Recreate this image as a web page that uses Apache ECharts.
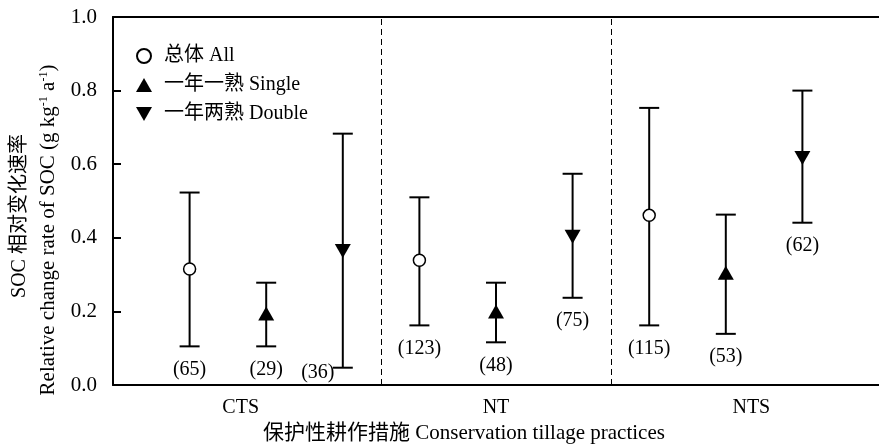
<!DOCTYPE html>
<html>
<head>
<meta charset="utf-8">
<script src="https://cdn.jsdelivr.net/npm/echarts@6/dist/echarts.min.js"></script>
<style>
  html, body { margin: 0; padding: 0; background: #fff; }
  #chart { width: 879px; height: 448px; }
</style>
</head>
<body>
<div id="chart"></div>
<script>
const FONT = "'Liberation Serif', 'Noto Sans CJK SC', serif";

const categories = ['CTS', 'NT', 'NTS'];
const seriesNames = ['总体 All', '一年一熟 Single', '一年两熟 Double'];
const yTicks = [0, 0.2, 0.4, 0.6, 0.8, 1.0];

// mean, lower and upper bound, sample size per category
const allMean = [0.315, 0.339, 0.461];
const allLow = [0.105, 0.162, 0.162];
const allHigh = [0.523, 0.510, 0.753];
const allN = [65, 123, 115];

const singleMean = [0.194, 0.200, 0.305];
const singleLow = [0.105, 0.116, 0.139];
const singleHigh = [0.278, 0.278, 0.463];
const singleN = [29, 48, 53];

const doubleMean = [0.364, 0.403, 0.617];
const doubleLow = [0.047, 0.237, 0.441];
const doubleHigh = [0.683, 0.574, 0.800];
const doubleN = [36, 75, 62];

const groups = [
  { mean: allMean, low: allLow, high: allHigh, n: allN },
  { mean: singleMean, low: singleLow, high: singleHigh, n: singleN },
  { mean: doubleMean, low: doubleLow, high: doubleHigh, n: doubleN },
];

// x slot: 3 per category, categories separated at 3.5 and 6.5
const xPos = (g, s) => g * 3 + s + 1;

const barData = [];
groups.forEach((grp, s) => {
  categories.forEach((c, g) => {
    barData.push([xPos(g, s), grp.low[g], grp.high[g], grp.n[g]]);
  });
});

function renderErrorBar(params, api) {
  const x = api.value(0);
  const lo = api.coord([x, api.value(1)]);
  const hi = api.coord([x, api.value(2)]);
  const n = api.value(3);
  const cap = 10;
  const bottom = params.coordSys.y + params.coordSys.height;
  const line = { stroke: '#000', lineWidth: 2 };
  let tx = lo[0], ty = lo[1] + 23;
  if (ty + 9 > bottom) { tx = lo[0] - 25; ty = lo[1] + 5; }
  return {
    type: 'group',
    children: [
      { type: 'line', shape: { x1: lo[0], y1: lo[1], x2: hi[0], y2: hi[1] }, style: line },
      { type: 'line', shape: { x1: lo[0] - cap, y1: lo[1], x2: lo[0] + cap, y2: lo[1] }, style: line },
      { type: 'line', shape: { x1: hi[0] - cap, y1: hi[1], x2: hi[0] + cap, y2: hi[1] }, style: line },
      {
        type: 'text',
        style: {
          text: '(' + n + ')', x: tx, y: ty,
          align: 'center', verticalAlign: 'middle',
          fontSize: 20, fontFamily: FONT, fill: '#000'
        }
      }
    ]
  };
}

const downTriangle = 'path://M0,0 L16,0 L8,14 Z';

const markerStyles = [
  { symbol: 'circle', symbolSize: 12, symbolRotate: 0, itemStyle: { color: '#fff', borderColor: '#000', borderWidth: 1.5, opacity: 1 } },
  { symbol: 'triangle', symbolSize: [16, 14], symbolRotate: 0, itemStyle: { color: '#000', opacity: 1 } },
  { symbol: 'triangle', symbolSize: [16, 14], symbolRotate: 180, itemStyle: { color: '#000', opacity: 1 } },
];

const scatterSeries = groups.map((grp, s) => ({
  name: seriesNames[s],
  type: 'scatter',
  xAxisIndex: 0,
  z: 5,
  symbol: markerStyles[s].symbol,
  symbolSize: markerStyles[s].symbolSize,
  symbolRotate: markerStyles[s].symbolRotate,
  itemStyle: markerStyles[s].itemStyle,
  emphasis: { disabled: true },
  data: categories.map((c, g) => [xPos(g, s), grp.mean[g]]),
}));

const chart = echarts.init(document.getElementById('chart'));

chart.setOption({
  animation: false,
  backgroundColor: '#fff',
  grid: { left: 113, right: -6, top: 17, bottom: 63 },
  legend: {
    data: [
      { name: seriesNames[0] },
      { name: seriesNames[1] },
      { name: seriesNames[2], icon: downTriangle },
    ],
    orient: 'vertical',
    left: 136,
    top: 46,
    padding: 0,
    itemWidth: 16,
    itemHeight: 14,
    itemGap: 9,
    textStyle: { fontSize: 20, fontFamily: FONT, color: '#000', padding: [0, 0, 0, 7] },
  },
  xAxis: [
    {
      type: 'value', min: 0, max: 10, position: 'bottom',
      axisLine: { lineStyle: { color: '#000', width: 2 } },
      axisTick: { show: false }, axisLabel: { show: false }, splitLine: { show: false },
    },
    {
      type: 'category', data: categories, position: 'bottom',
      axisLine: { show: false }, axisTick: { show: false }, splitLine: { show: false },
      axisLabel: { margin: 13, fontSize: 20, fontFamily: FONT, color: '#000' },
    },
    {
      type: 'value', min: 0, max: 10, position: 'top',
      axisLine: { lineStyle: { color: '#000', width: 2 } },
      axisTick: { show: false }, axisLabel: { show: false }, splitLine: { show: false },
    },
  ],
  yAxis: {
    type: 'value', min: yTicks[0], max: yTicks[yTicks.length - 1], interval: 0.2,
    axisLine: { show: true, lineStyle: { color: '#000', width: 2 } },
    axisTick: { show: true, inside: true, length: 8, lineStyle: { color: '#000', width: 2 } },
    axisLabel: { margin: 16, fontSize: 21, fontFamily: FONT, color: '#000', formatter: v => v.toFixed(1) },
    splitLine: { show: false },
  },
  graphic: [
    {
      type: 'text', x: 20, y: 216, rotation: Math.PI / 2,
      style: { text: 'SOC 相对变化速率', align: 'center', verticalAlign: 'middle', fontSize: 20, fontFamily: FONT, fill: '#000' }
    },
    {
      type: 'text', x: 48, y: 230, rotation: Math.PI / 2,
      style: {
        text: 'Relative change rate of SOC (g kg{sup|-1} a{sup|-1})',
        align: 'center', verticalAlign: 'middle',
        fontSize: 21, fontFamily: FONT, fill: '#000',
        rich: { sup: { fontSize: 12, fontFamily: FONT, verticalAlign: 'top', padding: [0, 0, 9, 0] } }
      }
    },
    {
      type: 'text', x: 464, y: 433,
      style: { text: '保护性耕作措施 Conservation tillage practices', align: 'center', verticalAlign: 'middle', fontSize: 21, fontFamily: FONT, fill: '#000' }
    },
  ],
  series: [
    {
      type: 'custom',
      xAxisIndex: 0,
      z: 2,
      renderItem: renderErrorBar,
      encode: { x: 0, y: [1, 2] },
      data: barData,
      markLine: {
        silent: true,
        symbol: 'none',
        label: { show: false },
        lineStyle: { color: '#000', width: 1, type: [6, 4] },
        data: [{ xAxis: 3.5 }, { xAxis: 6.5 }],
      },
    },
    ...scatterSeries,
  ],
});
</script>
</body>
</html>
